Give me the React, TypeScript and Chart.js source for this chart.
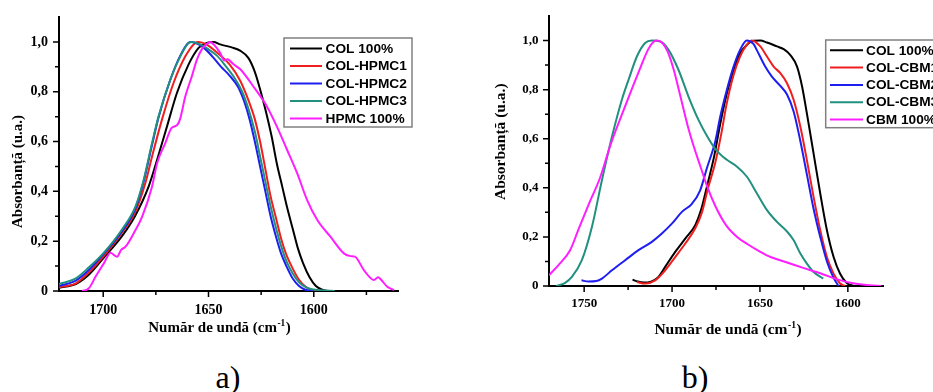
import React, { useEffect, useRef } from "react";
import { Chart, registerables } from "chart.js";

Chart.register(...registerables);

const SERIF = "'Liberation Serif', 'Times New Roman', serif";
const SANS = "'Liberation Sans', Arial, sans-serif";

// ---------------- Panel a) data ----------------
const A_LABELS = ["COL 100%", "COL-HPMC1", "COL-HPMC2", "COL-HPMC3", "HPMC 100%"];

const A_COL_X = [1721, 1713, 1707, 1700, 1691, 1685, 1678.4, 1674.4, 1669.7, 1665, 1659.5, 1654.7, 1650.8, 1647.6, 1644.4, 1639, 1635, 1631, 1628, 1625.5, 1623, 1620, 1617.5, 1615, 1612.5, 1610, 1607.5, 1605, 1602, 1599, 1596, 1593];
const A_COL_Y = [0.013, 0.028, 0.064, 0.131, 0.221, 0.299, 0.42, 0.527, 0.661, 0.795, 0.909, 0.976, 0.996, 1.0, 0.99, 0.978, 0.965, 0.935, 0.88, 0.81, 0.73, 0.62, 0.51, 0.42, 0.33, 0.25, 0.17, 0.11, 0.055, 0.02, 0.005, 0];

const A_H1_X = [1721, 1713, 1706.8, 1700, 1691, 1684.7, 1680, 1676.8, 1672.1, 1666.6, 1661, 1656.3, 1654.7, 1651, 1645, 1640, 1635, 1631, 1628, 1625.5, 1623, 1620.5, 1618, 1615.5, 1613, 1610, 1607, 1604, 1601, 1597];
const A_H1_Y = [0.015, 0.031, 0.074, 0.138, 0.235, 0.319, 0.433, 0.54, 0.688, 0.835, 0.942, 0.996, 1.0, 0.99, 0.95, 0.91, 0.845, 0.765, 0.69, 0.6, 0.49, 0.38, 0.295, 0.21, 0.145, 0.09, 0.045, 0.018, 0.004, 0];

const A_H2_X = [1721, 1713, 1706.8, 1700, 1691, 1684.7, 1680.8, 1676.8, 1673.7, 1668.1, 1663.4, 1659.5, 1658.2, 1656, 1652, 1648, 1644, 1640, 1636, 1633, 1630.5, 1628, 1625.5, 1623, 1620.5, 1618, 1615.5, 1613, 1610, 1607, 1604, 1600];
const A_H2_Y = [0.02, 0.042, 0.084, 0.147, 0.241, 0.332, 0.44, 0.587, 0.698, 0.849, 0.945, 0.997, 1.0, 0.995, 0.975, 0.94, 0.9, 0.865, 0.82, 0.76, 0.69, 0.6, 0.5, 0.4, 0.3, 0.22, 0.15, 0.1, 0.05, 0.02, 0.005, 0];

const A_H3_X = [1721, 1713, 1706.8, 1700, 1691, 1684.7, 1680.8, 1676.8, 1673.7, 1668.1, 1663.4, 1659.5, 1657.9, 1654, 1650, 1646, 1642, 1638, 1634, 1631, 1628, 1625.5, 1623, 1620.5, 1618, 1615.5, 1613, 1610, 1607, 1603, 1597, 1590];
const A_H3_Y = [0.028, 0.051, 0.095, 0.151, 0.248, 0.339, 0.446, 0.594, 0.701, 0.849, 0.942, 0.996, 1.0, 0.99, 0.97, 0.945, 0.905, 0.86, 0.8, 0.73, 0.64, 0.54, 0.44, 0.34, 0.255, 0.18, 0.12, 0.07, 0.035, 0.012, 0.003, 0];

const A_HPMC_X = [1710, 1706.8, 1703.6, 1699.7, 1696.5, 1695, 1693.4, 1691.5, 1689.4, 1685.5, 1681.5, 1676.8, 1674.4, 1670.5, 1667.5, 1665, 1663.5, 1661, 1657.9, 1655.5, 1653.2, 1651, 1649.2, 1647, 1644.4, 1642.5, 1641, 1638.1, 1634.9, 1628.6, 1622.2, 1617.5, 1612.7, 1607.9, 1603.2, 1598.4, 1592.1, 1585.7, 1582.5, 1580.5, 1576.2, 1571.4, 1569.5, 1568, 1565.1, 1561.9];
const A_HPMC_Y = [0.0, 0.011, 0.058, 0.111, 0.154, 0.145, 0.138, 0.165, 0.178, 0.232, 0.299, 0.42, 0.513, 0.594, 0.655, 0.665, 0.69, 0.782, 0.862, 0.929, 0.97, 0.99, 1.0, 0.985, 0.955, 0.925, 0.93, 0.91, 0.89, 0.82, 0.74, 0.66, 0.567, 0.473, 0.366, 0.286, 0.218, 0.151, 0.14, 0.138, 0.084, 0.044, 0.055, 0.045, 0.017, 0.004];

const A_X_TICKS = [1700, 1650, 1600];
const A_X_MINOR = [1675, 1625, 1575];

// ---------------- Panel b) data ----------------
const B_LABELS = ["COL 100%", "COL-CBM1", "COL-CBM2", "COL-CBM3", "CBM 100%"];

const B_COL_X = [1722.5, 1719.5, 1716, 1712, 1708, 1703.9, 1698.2, 1692.5, 1686.8, 1683.5, 1680, 1676, 1672.6, 1668.8, 1665, 1661.3, 1657.5, 1653.7, 1649.8, 1646, 1640.3, 1636.5, 1632.7, 1628.9, 1626, 1623.3, 1619.5, 1615.7, 1611.9, 1608.1, 1604.4, 1600.6, 1596.5];
const B_COL_Y = [0.026, 0.018, 0.014, 0.018, 0.035, 0.078, 0.139, 0.193, 0.248, 0.31, 0.41, 0.53, 0.66, 0.785, 0.88, 0.948, 0.982, 0.999, 1.0, 0.992, 0.976, 0.965, 0.941, 0.894, 0.812, 0.703, 0.54, 0.377, 0.227, 0.118, 0.05, 0.012, 0];

const B_C1_X = [1720, 1715.3, 1709.6, 1703.9, 1698.2, 1692.5, 1686.8, 1683, 1679.5, 1675.5, 1672, 1669, 1665, 1661.3, 1657.5, 1654.6, 1649.8, 1646, 1642.2, 1638.4, 1634.6, 1630.8, 1627, 1623.3, 1619.5, 1615.7, 1611.9, 1608.1, 1604.4, 1601.5];
const B_C1_Y = [0.016, 0.01, 0.023, 0.064, 0.118, 0.173, 0.235, 0.3, 0.4, 0.5, 0.62, 0.74, 0.86, 0.935, 0.982, 1.0, 0.976, 0.935, 0.894, 0.867, 0.826, 0.758, 0.649, 0.513, 0.363, 0.227, 0.118, 0.05, 0.01, 0];

const B_C2_X = [1751.5, 1747.5, 1743, 1739.9, 1734.2, 1726.7, 1719.1, 1711.5, 1705.8, 1700.1, 1694.4, 1688.7, 1684, 1680.2, 1675.4, 1672.6, 1668.8, 1665, 1661.3, 1657.5, 1653.6, 1651.7, 1647, 1643.2, 1638.4, 1634.6, 1630.8, 1627, 1623.3, 1619.5, 1615.7, 1611.9, 1608.1, 1605.3];
const B_C2_Y = [0.023, 0.018, 0.02, 0.03, 0.064, 0.105, 0.146, 0.18, 0.214, 0.254, 0.302, 0.335, 0.39, 0.48, 0.59, 0.69, 0.8, 0.894, 0.962, 1.0, 0.985, 0.96, 0.894, 0.853, 0.815, 0.78, 0.71, 0.59, 0.455, 0.315, 0.2, 0.1, 0.033, 0];

const B_C3_X = [1766, 1761, 1757, 1751.3, 1745.6, 1739.9, 1734.2, 1728.6, 1724.8, 1720, 1715.3, 1711.5, 1706.7, 1702, 1696.3, 1690.6, 1684.9, 1679.2, 1675, 1669, 1663, 1657.4, 1651.7, 1646, 1640.3, 1634.6, 1630.8, 1627, 1623.3, 1619.5, 1614];
const B_C3_Y = [0, 0.012, 0.037, 0.105, 0.24, 0.431, 0.608, 0.758, 0.839, 0.935, 0.99, 1.0, 0.996, 0.962, 0.88, 0.771, 0.676, 0.6, 0.555, 0.515, 0.486, 0.445, 0.377, 0.309, 0.261, 0.222, 0.186, 0.132, 0.091, 0.057, 0.03];

const B_CBM_X = [1770, 1764, 1758, 1753, 1747, 1741, 1735, 1729, 1723, 1718, 1713.5, 1710.5, 1708.5, 1705.5, 1702.5, 1699, 1695.5, 1691, 1687.5, 1684, 1680, 1675, 1669, 1663, 1657, 1650, 1644, 1635, 1625, 1615, 1606, 1597, 1588, 1581];
const B_CBM_Y = [0.044, 0.09, 0.146, 0.235, 0.34, 0.44, 0.575, 0.69, 0.8, 0.89, 0.965, 0.995, 1.0, 0.99, 0.955, 0.88, 0.78, 0.65, 0.565, 0.49, 0.405, 0.32, 0.245, 0.2, 0.17, 0.14, 0.118, 0.097, 0.073, 0.05, 0.027, 0.011, 0.003, 0];

const B_X_TICKS = [1750, 1700, 1650, 1600];
const B_X_MINOR = [1725, 1675, 1625];

// ---------------- shared ----------------
const Y_TICKS = [0, 0.2, 0.4, 0.6, 0.8, 1.0];
const Y_MINOR = [0.1, 0.3, 0.5, 0.7, 0.9];
const SERIES_COLORS = ["#000000", "#f01e1e", "#1e1ef0", "#21907e", "#ff1eff"];
const X_TITLE_MAIN = "Număr de undă (cm";
const X_TITLE_SUP = "-1";
const X_TITLE_TAIL = ")";
const Y_TITLE = "Absorbanță (u.a.)";

function tickMarksPlugin(cfg: any) {
  return {
    id: "tickMarks",
    afterDraw(chart: any) {
      const { ctx, chartArea } = chart;
      const xs = chart.scales.x;
      const ys = chart.scales.y;
      ctx.save();
      ctx.strokeStyle = "#000";
      ctx.lineWidth = 1.5;
      ctx.beginPath();
      const b = chartArea.bottom;
      const l = chartArea.left;
      cfg.xMajor.forEach((v: number) => {
        const p = xs.getPixelForValue(v);
        ctx.moveTo(p, b);
        ctx.lineTo(p, b + cfg.majorLen);
      });
      cfg.xMinor.forEach((v: number) => {
        const p = xs.getPixelForValue(v);
        ctx.moveTo(p, b);
        ctx.lineTo(p, b + cfg.minorLen);
      });
      cfg.yMajor.forEach((v: number) => {
        const p = ys.getPixelForValue(v);
        ctx.moveTo(l, p);
        ctx.lineTo(l - cfg.majorLen, p);
      });
      cfg.yMinor.forEach((v: number) => {
        const p = ys.getPixelForValue(v);
        ctx.moveTo(l, p);
        ctx.lineTo(l - cfg.minorLen, p);
      });
      ctx.stroke();
      ctx.restore();
    },
  };
}

function titlesPlugin(cfg: any) {
  return {
    id: "axisTitles",
    afterDraw(chart: any) {
      const ctx = chart.ctx;
      ctx.save();
      ctx.fillStyle = "#000";
      const f = `bold ${cfg.size}px ${SERIF}`;
      const fs = `bold ${cfg.size * 0.62}px ${SERIF}`;
      ctx.textBaseline = "alphabetic";
      ctx.textAlign = "left";
      ctx.font = f;
      const w1 = ctx.measureText(X_TITLE_MAIN).width;
      const w3 = ctx.measureText(X_TITLE_TAIL).width;
      ctx.font = fs;
      const w2 = ctx.measureText(X_TITLE_SUP).width;
      let x = cfg.xCenter - (w1 + w2 + w3) / 2;
      ctx.font = f;
      ctx.fillText(X_TITLE_MAIN, x, cfg.xBaseline);
      x += w1;
      ctx.font = fs;
      ctx.fillText(X_TITLE_SUP, x + 0.5, cfg.xBaseline - cfg.size * 0.38);
      x += w2 + 1;
      ctx.font = f;
      ctx.fillText(X_TITLE_TAIL, x, cfg.xBaseline);
      ctx.translate(cfg.yBaseline, cfg.yCenter);
      ctx.rotate(-Math.PI / 2);
      ctx.textAlign = "center";
      ctx.font = f;
      ctx.fillText(Y_TITLE, 0, 0);
      ctx.restore();
    },
  };
}

function boxLegendPlugin(cfg: any) {
  return {
    id: "boxLegend",
    afterDraw(chart: any) {
      const ctx = chart.ctx;
      ctx.save();
      ctx.fillStyle = "#fff";
      ctx.fillRect(cfg.left, cfg.top, cfg.width, cfg.height);
      ctx.strokeStyle = "#808080";
      ctx.lineWidth = 1.5;
      ctx.strokeRect(cfg.left, cfg.top, cfg.width, cfg.height);
      ctx.font = `bold ${cfg.fontSize}px ${SANS}`;
      ctx.textBaseline = "middle";
      ctx.textAlign = "left";
      chart.data.datasets.forEach((ds: any, i: number) => {
        const y = cfg.rowStart + i * cfg.rowGap;
        ctx.strokeStyle = ds.borderColor;
        ctx.lineWidth = 2;
        ctx.beginPath();
        ctx.moveTo(cfg.lineStart, y);
        ctx.lineTo(cfg.lineEnd, y);
        ctx.stroke();
        ctx.fillStyle = "#000";
        ctx.fillText(ds.label, cfg.textX, y + 0.5);
      });
      ctx.restore();
    },
  };
}

function buildConfig(p: any) {
  const datasets = p.labels.map((label: string, i: number) => ({
    label,
    data: p.xs[i].map((x: number, j: number) => ({ x, y: p.ys[i][j] })),
    borderColor: SERIES_COLORS[i],
    backgroundColor: SERIES_COLORS[i],
    borderWidth: 2,
    pointRadius: 0,
    pointHoverRadius: 0,
    fill: false,
    cubicInterpolationMode: "monotone",
    order: p.labels.length - i,
  }));
  return {
    type: "line",
    data: { datasets },
    options: {
      animation: false,
      responsive: false,
      devicePixelRatio: 1,
      events: [],
      layout: { padding: { left: 0, top: p.area.top, right: p.width - p.area.right, bottom: 0 } },
      scales: {
        x: {
          type: "linear",
          reverse: true,
          bounds: "data",
          min: p.xMin,
          max: p.xMax,
          grid: { display: false, drawTicks: false },
          border: { display: true, color: "#000", width: 2 },
          afterBuildTicks: (s: any) => {
            s.ticks = p.xTicks.map((value: number) => ({ value }));
          },
          afterFit: (s: any) => {
            s.height = p.height - p.area.bottom;
            s.paddingLeft = 0;
            s.paddingRight = 0;
            s.paddingTop = 0;
            s.paddingBottom = 0;
          },
          ticks: {
            autoSkip: false,
            maxRotation: 0,
            padding: p.xPad,
            color: "#000",
            font: { family: SERIF, size: p.tickSize, weight: "bold" },
            callback: (v: any) => String(v),
          },
        },
        y: {
          type: "linear",
          bounds: "data",
          min: 0,
          max: 1.1,
          grid: { display: false, drawTicks: false },
          border: { display: true, color: "#000", width: 2 },
          afterBuildTicks: (s: any) => {
            s.ticks = Y_TICKS.map((value: number) => ({ value }));
          },
          afterFit: (s: any) => {
            s.width = p.area.left;
            s.paddingLeft = 0;
            s.paddingRight = 0;
            s.paddingTop = 0;
            s.paddingBottom = 0;
          },
          ticks: {
            autoSkip: false,
            padding: p.yPad,
            color: "#000",
            font: { family: SERIF, size: p.tickSize, weight: "bold" },
            callback: (v: any) => (Number(v) === 0 ? "0" : Number(v).toFixed(1).replace(".", ",")),
          },
        },
      },
      plugins: {
        legend: { display: false },
        tooltip: { enabled: false },
        title: { display: false },
      },
    },
    plugins: [
      tickMarksPlugin({ xMajor: p.xTicks, xMinor: p.xMinor, yMajor: Y_TICKS, yMinor: Y_MINOR, majorLen: 6, minorLen: 4 }),
      titlesPlugin(p.titles),
      boxLegendPlugin(p.legend),
    ],
  };
}

const PANEL_A = {
  width: 470,
  height: 350,
  area: { left: 59, top: 17, right: 398, bottom: 291 },
  xMin: 1560,
  xMax: 1721,
  xTicks: A_X_TICKS,
  xMinor: A_X_MINOR,
  labels: A_LABELS,
  xs: [A_COL_X, A_H1_X, A_H2_X, A_H3_X, A_HPMC_X],
  ys: [A_COL_Y, A_H1_Y, A_H2_Y, A_H3_Y, A_HPMC_Y],
  tickSize: 14,
  xPad: 10.5,
  yPad: 11,
  titles: { size: 15, xCenter: 219, xBaseline: 332, yBaseline: 22, yCenter: 171.5 },
  legend: { left: 284, top: 38, width: 128, height: 89, rowStart: 48.5, rowGap: 17.5, lineStart: 290, lineEnd: 322, textX: 325.5, fontSize: 13.7 },
};

const PANEL_B = {
  width: 500,
  height: 350,
  area: { left: 79, top: 16, right: 413, bottom: 286 },
  xMin: 1580,
  xMax: 1770,
  xTicks: B_X_TICKS,
  xMinor: B_X_MINOR,
  labels: B_LABELS,
  xs: [B_COL_X, B_C1_X, B_C2_X, B_C3_X, B_CBM_X],
  ys: [B_COL_Y, B_C1_Y, B_C2_Y, B_C3_Y, B_CBM_Y],
  tickSize: 13,
  xPad: 9.5,
  yPad: 10.5,
  titles: { size: 15.5, xCenter: 257.5, xBaseline: 334, yBaseline: 35, yCenter: 141.7 },
  legend: { left: 355.7, top: 40, width: 125, height: 87.7, rowStart: 50.3, rowGap: 17.3, lineStart: 360, lineEnd: 393, textX: 396, fontSize: 13.7 },
};

function Panel({ cfg, left }: { cfg: any; left: number }) {
  const ref = useRef<HTMLCanvasElement | null>(null);
  useEffect(() => {
    if (!ref.current) return;
    const chart = new Chart(ref.current, buildConfig(cfg) as any);
    return () => chart.destroy();
  }, [cfg]);
  return (
    <canvas
      ref={ref}
      width={cfg.width}
      height={cfg.height}
      style={{ position: "absolute", left, top: 0, width: cfg.width, height: cfg.height }}
    />
  );
}

const captionStyle: React.CSSProperties = {
  position: "absolute",
  top: 361,
  width: 100,
  textAlign: "center",
  fontFamily: SERIF,
  fontSize: 32,
  lineHeight: "32px",
  color: "#000",
};

export default function App() {
  return (
    <div
      style={{
        position: "fixed",
        left: 0,
        top: 0,
        width: 933,
        height: 392,
        overflow: "hidden",
        background: "#fff",
      }}
    >
      <Panel cfg={PANEL_A} left={0} />
      <Panel cfg={PANEL_B} left={470} />
      <div style={{ ...captionStyle, left: 178 }}>a)</div>
      <div style={{ ...captionStyle, left: 645 }}>b)</div>
    </div>
  );
}
